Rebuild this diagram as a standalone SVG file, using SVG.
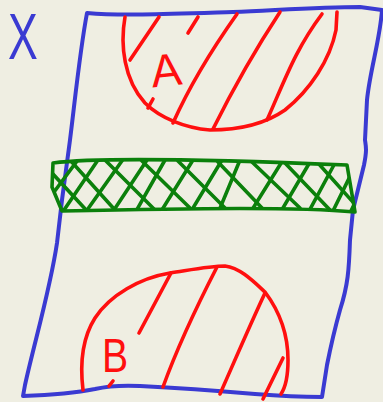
<svg xmlns="http://www.w3.org/2000/svg" width="383" height="402" viewBox="0 0 383 402">
<style>
.b{fill:none;stroke:#3a3ad2;stroke-width:4;stroke-linecap:round;stroke-linejoin:round}
.r{fill:none;stroke:#ff0f0f;stroke-width:3.6;stroke-linecap:round;stroke-linejoin:round}
.g{fill:none;stroke:#0b800b;stroke-width:3.6;stroke-linecap:round;stroke-linejoin:round}
.tr{fill:#ff0f0f;font-family:"Liberation Sans",Arial,sans-serif}
.tb{fill:#3a3ad2;font-family:"Liberation Sans",Arial,sans-serif}
</style>
<defs>
<clipPath id="bandClip">
<path d="M53,163 C90,158 200,159 347,165 L355,212 C300,207 200,208 62,211 L52,187 Z"/>
</clipPath>
</defs>
<rect width="383" height="402" fill="#efeee2"/>
<g id="label-x">
<text class="tb" transform="translate(8,59) scale(0.72,1.05)" font-size="62">X</text>
</g>
<g id="frame">
<path class="b" d="M87,13 C120,16 170,14 233,12 C280,10 320,7 360,7 L382,10 C380,40 370,70 367,100 L365,140 C366,147 367,150 364,165 L353,210 L350,240 C349,270 348,285 340,310 C333,335 330,350 327,365 L322,397 C300,397 280,396 255,394 C220,391 180,388 140,386 C120,385 108,386 95,389 C80,392 50,395 23,396 L25,385 C35,340 50,290 57,243 L62,200 L70,140 C75,100 80,50 87,13 Z"/>
</g>
<g id="region-a">
<path class="r" d="M125,17 C120,45 124,80 145,103 C160,118 185,128 210,130 C240,130 265,124 285,110 C310,90 330,60 336,30 L337,12"/>
<path class="r" d="M130,60 L159,17 M188,33 L198,17 M148,108 L153,99 M173,123 C190,85 215,45 237,14 M213,129 C230,95 255,50 280,12 M267,120 C285,80 295,50 322,14"/>
<text class="tr" x="166" y="86" font-size="46" text-anchor="middle" transform="rotate(-6 166 70)">A</text>
</g>
<g id="band">
<g clip-path="url(#bandClip)">
<path class="g" d="M40,211 L80,157 M62,213 L100,157 M85,213 L124,158 M112,213 L147,160 M135,213 L165,160 M160,213 L193,160 M190,213 L222,160 M218,213 L240,160 M250,213 L283,160 M280,213 L310,162 M308,213 L335,163 M332,213 L356,164 M350,213 L366,180"/>
<path class="g" d="M40,160 L88,212 M70,160 L115,210 M105,160 L155,210 M142,161 L190,208 M178,161 L225,208 M218,162 L262,208 M252,162 L300,208 M285,163 L330,210 M318,163 L360,210"/>
</g>
<path class="g" d="M53,163 C90,158 200,159 347,165 L355,212 C300,207 200,208 62,211 L52,187 Z"/>
</g>
<g id="region-b">
<path class="r" d="M83,390 C80,365 81,340 95,318 C110,295 140,278 170,273 C190,270 210,266 225,266 C240,268 252,280 265,292 C280,312 288,335 288,360 C288,375 285,388 281,394"/>
<path class="r" d="M139,333 L171,273 M163,387 C180,340 200,300 217,267 M220,394 C235,360 250,325 265,293 M263,399 L283,358 M109,386 L113,381"/>
<text class="tr" transform="translate(102,372) scale(0.8,1)" font-size="49">B</text>
</g>
</svg>
